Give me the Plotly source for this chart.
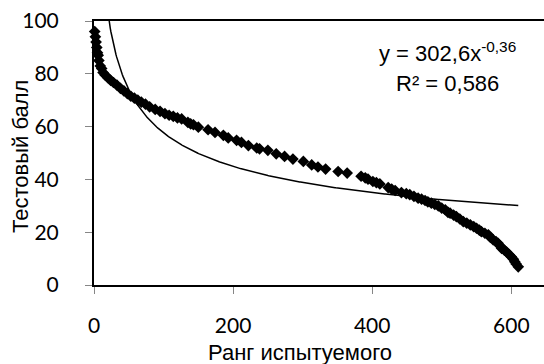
import numpy as np
import plotly.graph_objects as go

# Scatter data: rank of examinee vs test score
rank = [1, 2, 3, 4, 5, 6, 7, 9, 11, 13, 16, 20, 24, 28, 33, 38, 43, 48, 53, 58,
        63, 68, 74, 80, 88, 95, 102, 108, 114, 120, 126, 135, 139, 143, 150, 164,
        174, 186, 193, 205, 212, 222, 234, 238, 250, 262, 274, 286, 301, 313, 322,
        333, 351, 364, 384, 390, 394, 401, 406, 411, 423, 428, 433, 442, 449, 454,
        460, 466, 471, 476, 480, 485, 490, 495, 500, 505, 509, 512, 517, 521, 526,
        531, 536, 541, 546, 550, 554, 557, 562, 567, 570, 574, 578, 581, 584, 586,
        590, 593, 597, 600, 603, 605, 607, 610]
score = [96, 94, 92, 90, 88, 87, 85, 83, 82, 80.5, 79.5, 78.5, 77.5, 76.7, 75.7,
         74.5, 73.5, 72.5, 71.5, 70.8, 70, 69.3, 68.5, 67.5, 66.5, 65.8, 64.9, 64.3,
         63.9, 63.3, 62.9, 61.6, 61.0, 60.7, 59.8, 58.8, 57.8, 56.7, 55.7, 54.8, 54.0,
         52.8, 51.9, 51.6, 51.0, 49.7, 48.7, 47.7, 46.8, 45.5, 44.7, 43.9, 43.0, 42.4,
         41.2, 40.6, 40.1, 39.2, 38.8, 38.3, 36.9, 36.3, 35.8, 35.0, 34.6, 34.2, 33.6,
         32.9, 32.5, 32.0, 31.5, 31.0, 30.5, 30.0, 29.1, 28.5, 27.5, 27.2, 26.5, 25.9,
         25.0, 24.0, 23.4, 22.8, 22.1, 21.5, 20.8, 20.2, 19.6, 19.0, 18.0, 17.1, 16.4,
         15.8, 14.8, 13.9, 13.2, 12.6, 11.5, 10.7, 9.8, 8.8, 8.0, 6.9]

# Power trendline coefficients as shown on the chart
trend_a = 302.6
trend_b = -0.36

x_ticks = [0, 200, 400, 600]
y_ticks = [0, 20, 40, 60, 80, 100]

tx = np.linspace(1, max(rank), 600)
ty = trend_a * tx ** trend_b

fig = go.Figure()
fig.add_trace(go.Scatter(x=tx, y=ty, mode="lines",
                         line=dict(color="black", width=1.5), hoverinfo="skip"))
fig.add_trace(go.Scatter(x=rank, y=score, mode="markers",
                         marker=dict(symbol="diamond", size=9, color="black"),
                         cliponaxis=False))

tick_font = dict(family="Lato", size=21, color="black")
title_font = dict(family="Liberation Sans", size=22, color="black")
fig.update_layout(
    width=544, height=364,
    margin=dict(l=94, r=0, t=21, b=79),
    paper_bgcolor="white", plot_bgcolor="white",
    showlegend=False,
    xaxis=dict(range=[0, 647], tickvals=x_ticks, showgrid=False, zeroline=False,
               showline=True, linecolor="black", linewidth=2, mirror=True,
               ticks="outside", ticklen=7, tickcolor="#868686", tickwidth=1,
               tickfont=tick_font, ticklabelstandoff=14),
    yaxis=dict(range=[0, 100], tickvals=y_ticks, showgrid=False, zeroline=False,
               showline=True, linecolor="black", linewidth=2,
               ticks="outside", ticklen=7, tickcolor="#868686", tickwidth=1,
               tickfont=tick_font, ticklabelstandoff=22),
    annotations=[
        dict(text="Ранг испытуемого", xref="paper", yref="paper",
             x=(300 - 94) / 450, y=-(352 - 285) / 264, showarrow=False,
             xanchor="center", yanchor="middle", font=title_font),
        dict(text="Тестовый балл", xref="paper", yref="paper",
             x=-(94 - 20) / 450, y=(285 - 157) / 264, showarrow=False,
             textangle=-90, xanchor="center", yanchor="middle", font=title_font),
        dict(text="y = 302,6x<sup>-0,36</sup>", xref="paper", yref="paper",
             x=(447 - 94) / 450, y=(285 - 52) / 264, showarrow=False,
             xanchor="center", yanchor="middle",
             font=dict(family="Liberation Sans", size=22, color="black")),
        dict(text="R² = 0,586", xref="paper", yref="paper",
             x=(447 - 94) / 450, y=(285 - 83) / 264, showarrow=False,
             xanchor="center", yanchor="middle",
             font=dict(family="Liberation Sans", size=22, color="black")),
    ],
)

fig.write_html("out.html")
